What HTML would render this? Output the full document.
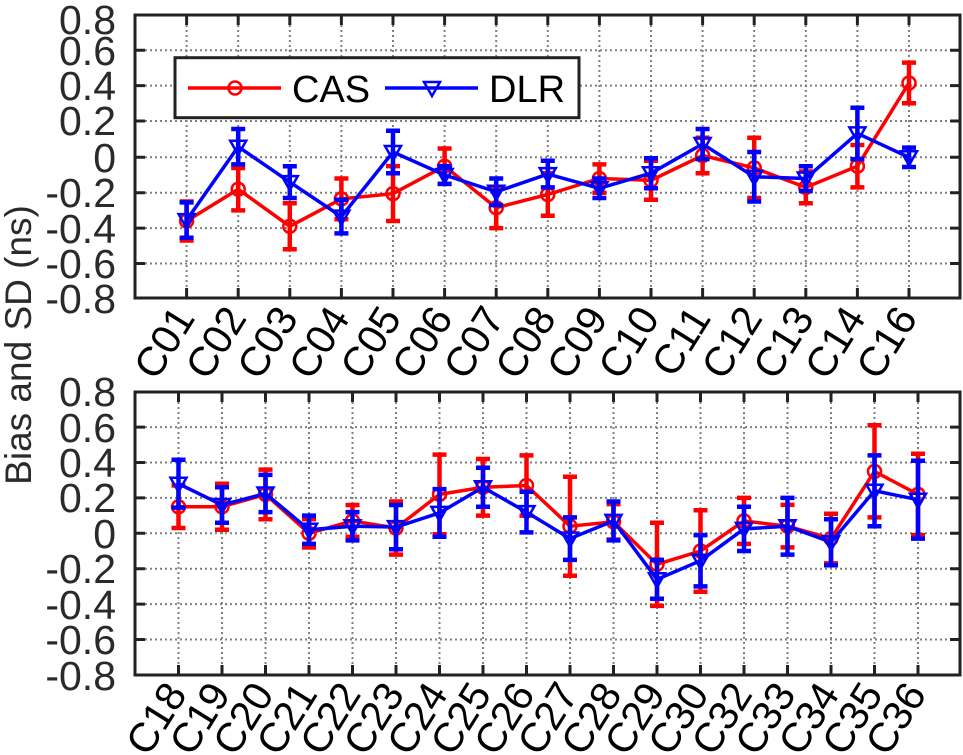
<!DOCTYPE html>
<html><head><meta charset="utf-8"><style>
html,body{margin:0;padding:0;background:#fff;}
svg{display:block;font-family:"Liberation Sans",sans-serif;}
.g{stroke:#808080;stroke-width:2;stroke-dasharray:2,3;}
.t{stroke:#222;stroke-width:3;}
.yl text{font-size:41px;fill:#2a2a2a;text-anchor:end;}
.xl text{font-size:41px;fill:#000;text-anchor:end;}
.r{stroke:#f00;fill:none;}
.b{stroke:#00f;fill:none;}
</style></head><body>
<svg width="963" height="755" viewBox="0 0 963 755">
<defs>
<symbol id="ci" overflow="visible"><circle cx="0" cy="0" r="6.5" stroke="#f00" stroke-width="2.5" fill="none"/></symbol>
<symbol id="tr" overflow="visible"><path d="M-8,-6 L8,-6 L0,8 Z" stroke="#00f" stroke-width="2.5" fill="none"/></symbol>
</defs>

<!-- ===== TOP ===== -->
<g>
<g class="g">
<line x1="135" y1="50.2" x2="960" y2="50.2"/><line x1="135" y1="85.6" x2="960" y2="85.6"/><line x1="135" y1="121" x2="960" y2="121"/><line x1="135" y1="157.3" x2="960" y2="157.3"/><line x1="135" y1="192.7" x2="960" y2="192.7"/><line x1="135" y1="228.1" x2="960" y2="228.1"/><line x1="135" y1="263.5" x2="960" y2="263.5"/>
<line x1="186.6" y1="15" x2="186.6" y2="298"/><line x1="238.2" y1="15" x2="238.2" y2="298"/><line x1="289.8" y1="15" x2="289.8" y2="298"/><line x1="341.4" y1="15" x2="341.4" y2="298"/><line x1="393" y1="15" x2="393" y2="298"/><line x1="444.6" y1="15" x2="444.6" y2="298"/><line x1="496.2" y1="15" x2="496.2" y2="298"/><line x1="547.8" y1="15" x2="547.8" y2="298"/><line x1="599.4" y1="15" x2="599.4" y2="298"/><line x1="651" y1="15" x2="651" y2="298"/><line x1="702.6" y1="15" x2="702.6" y2="298"/><line x1="754.2" y1="15" x2="754.2" y2="298"/><line x1="805.8" y1="15" x2="805.8" y2="298"/><line x1="857.4" y1="15" x2="857.4" y2="298"/><line x1="909" y1="15" x2="909" y2="298"/>
</g>
<g class="t">
<path d="M135,50.2h10M135,85.6h10M135,121h10M135,157.3h10M135,192.7h10M135,228.1h10M135,263.5h10M960,50.2h-10M960,85.6h-10M960,121h-10M960,157.3h-10M960,192.7h-10M960,228.1h-10M960,263.5h-10"/>
<path d="M186.6,15v10M238.2,15v10M289.8,15v10M341.4,15v10M393,15v10M444.6,15v10M496.2,15v10M547.8,15v10M599.4,15v10M651,15v10M702.6,15v10M754.2,15v10M805.8,15v10M857.4,15v10M909,15v10M186.6,298v-10M238.2,298v-10M289.8,298v-10M341.4,298v-10M393,298v-10M444.6,298v-10M496.2,298v-10M547.8,298v-10M599.4,298v-10M651,298v-10M702.6,298v-10M754.2,298v-10M805.8,298v-10M857.4,298v-10M909,298v-10"/>
</g>
<!-- CAS -->
<polyline class="r" stroke-width="3.5" points="186.6,221 238.2,189.2 289.8,226.3 341.4,198.9 393,193.6 444.6,166.2 496.2,207.7 547.8,194.5 599.4,178.5 651,180.3 702.6,155.5 754.2,167.9 805.8,187.4 857.4,166.2 909,83"/>
<path class="r" stroke-width="4.5" d="M186.6,201.5V240.5M179.6,201.5h14M179.6,240.5h14
M238.2,168V210.4M231.2,168h14M231.2,210.4h14
M289.8,203.3V249.3M282.8,203.3h14M282.8,249.3h14
M341.4,178.5V219.2M334.4,178.5h14M334.4,219.2h14
M393,166.1V221M386,166.1h14M386,221h14
M444.6,148.5V183.9M437.6,148.5h14M437.6,183.9h14
M496.2,187.4V228.1M489.2,187.4h14M489.2,228.1h14
M547.8,173.2V215.7M540.8,173.2h14M540.8,215.7h14
M599.4,164.4V192.7M592.4,164.4h14M592.4,192.7h14
M651,160.8V199.8M644,160.8h14M644,199.8h14
M702.6,137.8V173.2M695.6,137.8h14M695.6,173.2h14
M754.2,137.8V198M747.2,137.8h14M747.2,198h14
M805.8,171.5V203.3M798.8,171.5h14M798.8,203.3h14
M857.4,145V187.4M850.4,145h14M850.4,187.4h14
M909,62.6V103.3M902,62.6h14M902,103.3h14"/>
<use href="#ci" x="186.6" y="221"/><use href="#ci" x="238.2" y="189.2"/><use href="#ci" x="289.8" y="226.3"/><use href="#ci" x="341.4" y="198.9"/><use href="#ci" x="393" y="193.6"/><use href="#ci" x="444.6" y="166.2"/><use href="#ci" x="496.2" y="207.7"/><use href="#ci" x="547.8" y="194.5"/><use href="#ci" x="599.4" y="178.5"/><use href="#ci" x="651" y="180.3"/><use href="#ci" x="702.6" y="155.5"/><use href="#ci" x="754.2" y="167.9"/><use href="#ci" x="805.8" y="187.4"/><use href="#ci" x="857.4" y="166.2"/><use href="#ci" x="909" y="83"/>
<!-- DLR -->
<polyline class="b" stroke-width="3.5" points="186.6,220.1 238.2,146.7 289.8,182.1 341.4,216.6 393,152 444.6,175 496.2,191.8 547.8,174.1 599.4,188.3 651,173.2 702.6,144 754.2,176.8 805.8,178.5 857.4,133.4 909,157.3"/>
<path class="b" stroke-width="4.5" d="M186.6,202.4V237.8M179.6,202.4h14M179.6,237.8h14
M238.2,129V164.4M231.2,129h14M231.2,164.4h14
M289.8,166.2V198M282.8,166.2h14M282.8,198h14
M341.4,199.8V233.4M334.4,199.8h14M334.4,233.4h14
M393,130.8V173.2M386,130.8h14M386,173.2h14
M444.6,166.2V183.9M437.6,166.2h14M437.6,183.9h14
M496.2,178.5V205.1M489.2,178.5h14M489.2,205.1h14
M547.8,160.8V187.4M540.8,160.8h14M540.8,187.4h14
M599.4,178.5V198M592.4,178.5h14M592.4,198h14
M651,158.2V188.3M644,158.2h14M644,188.3h14
M702.6,129V159.1M695.6,129h14M695.6,159.1h14
M754.2,152V201.5M747.2,152h14M747.2,201.5h14
M805.8,166.2V190.9M798.8,166.2h14M798.8,190.9h14
M857.4,107.7V159.1M850.4,107.7h14M850.4,159.1h14
M909,147.6V167M902,147.6h14M902,167h14"/>
<use href="#tr" x="186.6" y="220.1"/><use href="#tr" x="238.2" y="146.7"/><use href="#tr" x="289.8" y="182.1"/><use href="#tr" x="341.4" y="216.6"/><use href="#tr" x="393" y="152"/><use href="#tr" x="444.6" y="175"/><use href="#tr" x="496.2" y="191.8"/><use href="#tr" x="547.8" y="174.1"/><use href="#tr" x="599.4" y="188.3"/><use href="#tr" x="651" y="173.2"/><use href="#tr" x="702.6" y="144"/><use href="#tr" x="754.2" y="176.8"/><use href="#tr" x="805.8" y="178.5"/><use href="#tr" x="857.4" y="133.4"/><use href="#tr" x="909" y="157.3"/>
<!-- legend -->
<rect x="175" y="57.7" width="404" height="60" fill="#fff" stroke="#222" stroke-width="3"/>
<line x1="188" y1="88" x2="281" y2="88" stroke="#f00" stroke-width="3.5"/>
<use href="#ci" x="235" y="88"/>
<text x="292" y="102" font-size="38" fill="#000">CAS</text>
<line x1="385" y1="88" x2="478" y2="88" stroke="#00f" stroke-width="3.5"/>
<use href="#tr" x="432" y="88"/>
<text x="489" y="102" font-size="38" fill="#000">DLR</text>
<rect x="135" y="15" width="825" height="283" fill="none" stroke="#222" stroke-width="3"/>
<g class="yl">
<text x="116" y="34">0.8</text><text x="116" y="65">0.6</text><text x="116" y="100">0.4</text><text x="116" y="135">0.2</text><text x="116" y="172">0</text><text x="116" y="207">-0.2</text><text x="116" y="243">-0.4</text><text x="116" y="278">-0.6</text><text x="116" y="313">-0.8</text>
</g>
<g class="xl">
<text transform="translate(196,318) rotate(-58)">C01</text>
<text transform="translate(247.6,318) rotate(-58)">C02</text>
<text transform="translate(299.2,318) rotate(-58)">C03</text>
<text transform="translate(350.8,318) rotate(-58)">C04</text>
<text transform="translate(402.4,318) rotate(-58)">C05</text>
<text transform="translate(454,318) rotate(-58)">C06</text>
<text transform="translate(505.6,318) rotate(-58)">C07</text>
<text transform="translate(557.2,318) rotate(-58)">C08</text>
<text transform="translate(608.8,318) rotate(-58)">C09</text>
<text transform="translate(660.4,318) rotate(-58)">C10</text>
<text transform="translate(712,318) rotate(-58)">C11</text>
<text transform="translate(763.6,318) rotate(-58)">C12</text>
<text transform="translate(815.2,318) rotate(-58)">C13</text>
<text transform="translate(866.8,318) rotate(-58)">C14</text>
<text transform="translate(918.4,318) rotate(-58)">C16</text>
</g>
</g>

<!-- ===== BOTTOM ===== -->
<g>
<g class="g">
<line x1="135" y1="427.1" x2="960" y2="427.1"/><line x1="135" y1="462.5" x2="960" y2="462.5"/><line x1="135" y1="497.9" x2="960" y2="497.9"/><line x1="135" y1="533.3" x2="960" y2="533.3"/><line x1="135" y1="568.7" x2="960" y2="568.7"/><line x1="135" y1="604.1" x2="960" y2="604.1"/><line x1="135" y1="639.5" x2="960" y2="639.5"/>
<line x1="178.5" y1="392" x2="178.5" y2="675"/><line x1="222" y1="392" x2="222" y2="675"/><line x1="265.5" y1="392" x2="265.5" y2="675"/><line x1="309" y1="392" x2="309" y2="675"/><line x1="352.5" y1="392" x2="352.5" y2="675"/><line x1="396" y1="392" x2="396" y2="675"/><line x1="439.5" y1="392" x2="439.5" y2="675"/><line x1="483" y1="392" x2="483" y2="675"/><line x1="526.5" y1="392" x2="526.5" y2="675"/><line x1="570" y1="392" x2="570" y2="675"/><line x1="613.5" y1="392" x2="613.5" y2="675"/><line x1="657" y1="392" x2="657" y2="675"/><line x1="700.5" y1="392" x2="700.5" y2="675"/><line x1="744" y1="392" x2="744" y2="675"/><line x1="787.5" y1="392" x2="787.5" y2="675"/><line x1="831" y1="392" x2="831" y2="675"/><line x1="874.5" y1="392" x2="874.5" y2="675"/><line x1="918" y1="392" x2="918" y2="675"/>
</g>
<g class="t">
<path d="M135,427.1h10M135,462.5h10M135,497.9h10M135,533.3h10M135,568.7h10M135,604.1h10M135,639.5h10M960,427.1h-10M960,462.5h-10M960,497.9h-10M960,533.3h-10M960,568.7h-10M960,604.1h-10M960,639.5h-10"/>
<path d="M178.5,392v10M222,392v10M265.5,392v10M309,392v10M352.5,392v10M396,392v10M439.5,392v10M483,392v10M526.5,392v10M570,392v10M613.5,392v10M657,392v10M700.5,392v10M744,392v10M787.5,392v10M831,392v10M874.5,392v10M918,392v10M178.5,675v-10M222,675v-10M265.5,675v-10M309,675v-10M352.5,675v-10M396,675v-10M439.5,675v-10M483,675v-10M526.5,675v-10M570,675v-10M613.5,675v-10M657,675v-10M700.5,675v-10M744,675v-10M787.5,675v-10M831,675v-10M874.5,675v-10M918,675v-10"/>
</g>
<!-- CAS -->
<polyline class="r" stroke-width="3.5" points="178.5,506.8 222,506.8 265.5,494.4 309,533.3 352.5,520.9 396,528 439.5,494.4 483,487.3 526.5,485.5 570,526.2 613.5,521.8 657,564.3 700.5,551 744,520.9 787.5,526.2 831,538.6 874.5,471.4 918,494.4"/>
<path class="r" stroke-width="4.5" d="M178.5,485.5V528M171.5,485.5h14M171.5,528h14
M222,483.8V529.8M215,483.8h14M215,529.8h14
M265.5,469.6V519.2M258.5,469.6h14M258.5,519.2h14
M309,519.1V547.5M302,519.1h14M302,547.5h14
M352.5,505V536.9M345.5,505h14M345.5,536.9h14
M396,501.5V554.6M389,501.5h14M389,554.6h14
M439.5,454.6V534.2M432.5,454.6h14M432.5,534.2h14
M483,459V515.6M476,459h14M476,515.6h14
M526.5,455.4V515.6M519.5,455.4h14M519.5,515.6h14
M570,476.7V575.8M563,476.7h14M563,575.8h14
M613.5,504.1V539.5M606.5,504.1h14M606.5,539.5h14
M657,522.7V605.9M650,522.7h14M650,605.9h14
M700.5,510.3V591.7M693.5,510.3h14M693.5,591.7h14
M744,497.9V543.9M737,497.9h14M737,543.9h14
M787.5,504.9V547.4M780.5,504.9h14M780.5,547.4h14
M831,513.8V563.4M824,513.8h14M824,563.4h14
M874.5,425.3V517.4M867.5,425.3h14M867.5,517.4h14
M918,453.7V535.1M911,453.7h14M911,535.1h14"/>
<use href="#ci" x="178.5" y="506.8"/><use href="#ci" x="222" y="506.8"/><use href="#ci" x="265.5" y="494.4"/><use href="#ci" x="309" y="533.3"/><use href="#ci" x="352.5" y="520.9"/><use href="#ci" x="396" y="528"/><use href="#ci" x="439.5" y="494.4"/><use href="#ci" x="483" y="487.3"/><use href="#ci" x="526.5" y="485.5"/><use href="#ci" x="570" y="526.2"/><use href="#ci" x="613.5" y="521.8"/><use href="#ci" x="657" y="564.3"/><use href="#ci" x="700.5" y="551"/><use href="#ci" x="744" y="520.9"/><use href="#ci" x="787.5" y="526.2"/><use href="#ci" x="831" y="538.6"/><use href="#ci" x="874.5" y="471.4"/><use href="#ci" x="918" y="494.4"/>
<!-- DLR -->
<polyline class="b" stroke-width="3.5" points="178.5,483.7 222,505 265.5,493.5 309,529.8 352.5,526.2 396,527.1 439.5,512.9 483,487.3 526.5,512.1 570,538.6 613.5,520.9 657,579.3 700.5,560.7 744,528.9 787.5,526.2 831,542.2 874.5,490.8 918,499.7"/>
<path class="b" stroke-width="4.5" d="M178.5,459.8V507.6M171.5,459.8h14M171.5,507.6h14
M222,487.3V522.7M215,487.3h14M215,522.7h14
M265.5,474.9V512.1M258.5,474.9h14M258.5,512.1h14
M309,515.6V543.9M302,515.6h14M302,543.9h14
M352.5,512.1V540.4M345.5,512.1h14M345.5,540.4h14
M396,505V549.2M389,505h14M389,549.2h14
M439.5,489.1V536.8M432.5,489.1h14M432.5,536.8h14
M483,467.8V506.8M476,467.8h14M476,506.8h14
M526.5,491.7V532.4M519.5,491.7h14M519.5,532.4h14
M570,517.4V559.9M563,517.4h14M563,559.9h14
M613.5,501.5V540.4M606.5,501.5h14M606.5,540.4h14
M657,559.9V598.8M650,559.9h14M650,598.8h14
M700.5,535.1V586.4M693.5,535.1h14M693.5,586.4h14
M744,506.8V551M737,506.8h14M737,551h14
M787.5,497.9V554.6M780.5,497.9h14M780.5,554.6h14
M831,519.2V565.2M824,519.2h14M824,565.2h14
M874.5,455.4V526.2M867.5,455.4h14M867.5,526.2h14
M918,460.7V538.6M911,460.7h14M911,538.6h14"/>
<use href="#tr" x="178.5" y="483.7"/><use href="#tr" x="222" y="505"/><use href="#tr" x="265.5" y="493.5"/><use href="#tr" x="309" y="529.8"/><use href="#tr" x="352.5" y="526.2"/><use href="#tr" x="396" y="527.1"/><use href="#tr" x="439.5" y="512.9"/><use href="#tr" x="483" y="487.3"/><use href="#tr" x="526.5" y="512.1"/><use href="#tr" x="570" y="538.6"/><use href="#tr" x="613.5" y="520.9"/><use href="#tr" x="657" y="579.3"/><use href="#tr" x="700.5" y="560.7"/><use href="#tr" x="744" y="528.9"/><use href="#tr" x="787.5" y="526.2"/><use href="#tr" x="831" y="542.2"/><use href="#tr" x="874.5" y="490.8"/><use href="#tr" x="918" y="499.7"/>
<rect x="135" y="392" width="825" height="283" fill="none" stroke="#222" stroke-width="3"/>
<g class="yl">
<text x="116" y="406">0.8</text><text x="116" y="442">0.6</text><text x="116" y="477">0.4</text><text x="116" y="512">0.2</text><text x="116" y="548">0</text><text x="116" y="583">-0.2</text><text x="116" y="619">-0.4</text><text x="116" y="654">-0.6</text><text x="116" y="690">-0.8</text>
</g>
<g class="xl">
<text transform="translate(188,694) rotate(-58)">C18</text>
<text transform="translate(231.5,694) rotate(-58)">C19</text>
<text transform="translate(275,694) rotate(-58)">C20</text>
<text transform="translate(318.5,694) rotate(-58)">C21</text>
<text transform="translate(362,694) rotate(-58)">C22</text>
<text transform="translate(405.5,694) rotate(-58)">C23</text>
<text transform="translate(449,694) rotate(-58)">C24</text>
<text transform="translate(492.5,694) rotate(-58)">C25</text>
<text transform="translate(536,694) rotate(-58)">C26</text>
<text transform="translate(579.5,694) rotate(-58)">C27</text>
<text transform="translate(623,694) rotate(-58)">C28</text>
<text transform="translate(666.5,694) rotate(-58)">C29</text>
<text transform="translate(710,694) rotate(-58)">C30</text>
<text transform="translate(753.5,694) rotate(-58)">C32</text>
<text transform="translate(797,694) rotate(-58)">C33</text>
<text transform="translate(840.5,694) rotate(-58)">C34</text>
<text transform="translate(884,694) rotate(-58)">C35</text>
<text transform="translate(927.5,694) rotate(-58)">C36</text>
</g>
</g>

<text transform="translate(31,345) rotate(-90)" font-size="37" fill="#2a2a2a" text-anchor="middle">Bias and SD (ns)</text>
</svg>
</body></html>
